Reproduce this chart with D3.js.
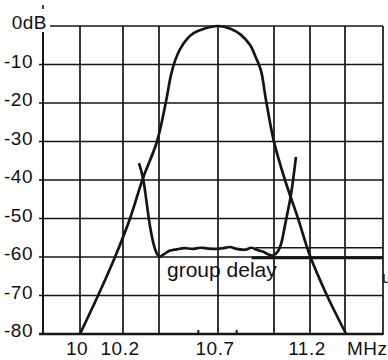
<!DOCTYPE html>
<html>
<head>
<meta charset="utf-8">
<script src="https://cdn.jsdelivr.net/npm/d3@7"></script>
<style>
  html, body { margin: 0; padding: 0; background: #fff; }
  svg { display: block; }
  text { font-family: "Liberation Sans", Arial, Helvetica, sans-serif; fill: #111; }
</style>
</head>
<body>
<script>
// ---- data ----
const gridFreqs = [10, 10.2, 10.4, 10.7, 11.0, 11.2, 11.4];
const xTickLabels = [10, 10.2, 10.7, 11.2];
const minorTicks = [10.6, 10.8];
const dbLevels = [0, -10, -20, -30, -40, -50, -60, -70, -80];
const yTickLabels = ["0dB", "-10", "-20", "-30", "-40", "-50", "-60", "-70", "-80"];

const amplitudeFreq = [10.0, 10.084, 10.163, 10.239, 10.311, 10.389, 10.436, 10.461, 10.483, 10.507, 10.542, 10.578, 10.629, 10.7, 10.77, 10.823, 10.871, 10.904, 10.93, 10.957, 11.0, 11.061, 11.133, 11.2, 11.291, 11.406];
const amplitudeDb   = [-80, -70, -60, -50, -39.5, -30, -19.5, -12.7, -8.8, -6.0, -3.4, -1.8, -0.7, 0, -0.8, -2.3, -4.9, -8.3, -11.5, -19.2, -30.1, -40, -49.9, -59.7, -69.4, -80];

const delayFreq = [10.289, 10.311, 10.35, 10.372, 10.389, 10.402, 10.427, 10.453, 10.49, 10.53, 10.57, 10.61, 10.65, 10.69, 10.73, 10.764, 10.8, 10.845, 10.88, 10.91, 10.94, 10.968, 10.996, 11.022, 11.04, 11.058, 11.075, 11.09, 11.106, 11.122];
const delayDb   = [-35.6, -39.5, -52, -57, -59.2, -59.9, -59.2, -58.4, -58.0, -57.7, -57.9, -57.6, -57.8, -57.9, -57.7, -57.4, -57.9, -58.1, -57.6, -58.2, -58.6, -59.3, -59.6, -58.5, -56.5, -52.5, -48.5, -45, -40, -34];

// group-delay reference markers at right
const refLines = [
  {f0: 10.9, f1: 11.6, db: -57.6, w: 1.4},
  {f0: 10.88, f1: 11.6, db: -60.2, w: 3}
];

// ---- layout ----
const W = 388, H = 360;
const svg = d3.select("body").append("svg").attr("width", W).attr("height", H);

const x = d3.scaleLinear()
  .domain([9.8, 10, 10.2, 10.4, 10.7, 11.0, 11.2, 11.4, 11.6])
  .range([43, 80, 123, 159, 218, 274, 310, 345, 383]);
const y = d3.scaleLinear().domain([0, -80]).range([26, 334]);

const ink = "#151515";
const g = svg.append("g");

// horizontal gridlines
g.selectAll(".hg").data(dbLevels).join("line")
  .attr("x1", d => d === 0 ? 50 : x(9.8) - 4)
  .attr("x2", x(11.6))
  .attr("y1", d => y(d)).attr("y2", d => y(d))
  .attr("stroke", ink).attr("stroke-width", d => d === -80 ? 2.4 : 1.7);

// vertical gridlines
g.selectAll(".vg").data(gridFreqs.concat([11.6])).join("line")
  .attr("x1", d => x(d)).attr("x2", d => x(d))
  .attr("y1", y(0)).attr("y2", y(-80) + 1)
  .attr("stroke", ink).attr("stroke-width", 1.7);

// left axis
g.append("line")
  .attr("x1", x(9.8)).attr("x2", x(9.8))
  .attr("y1", y(0) + 6).attr("y2", y(-80) + 1)
  .attr("stroke", ink).attr("stroke-width", 2);
g.append("line")
  .attr("x1", x(9.8)).attr("x2", x(9.8))
  .attr("y1", 5).attr("y2", 9)
  .attr("stroke", ink).attr("stroke-width", 1.6);

// minor ticks
g.selectAll(".mt").data(minorTicks).join("line")
  .attr("x1", d => x(d)).attr("x2", d => x(d))
  .attr("y1", y(-80) - 4).attr("y2", y(-80))
  .attr("stroke", ink).attr("stroke-width", 2);

// y labels
svg.selectAll(".yl").data(dbLevels).join("text")
  .attr("x", (d, i) => i === 0 ? 47 : 33)
  .attr("y", (d, i) => i === 0 ? 29 : y(d) + 3)
  .attr("text-anchor", "end")
  .attr("font-size", 19)
  .attr("letter-spacing", 0.5)
  .text((d, i) => yTickLabels[i]);

// x labels
svg.selectAll(".xl").data(xTickLabels).join("text")
  .attr("x", d => x(d) - 3)
  .attr("y", 355)
  .attr("text-anchor", "middle")
  .attr("font-size", 19)
  .attr("letter-spacing", 0.5)
  .text(d => d);
svg.append("text")
  .attr("x", 347).attr("y", 355)
  .attr("font-size", 19).attr("letter-spacing", 0.5)
  .text("MHz");

// reference lines
g.selectAll(".rl").data(refLines).join("line")
  .attr("x1", d => x(d.f0)).attr("x2", d => x(d.f1))
  .attr("y1", d => y(d.db)).attr("y2", d => y(d.db))
  .attr("stroke", ink).attr("stroke-width", d => d.w);

// curves
const line = d3.line()
  .x(d => x(d[0])).y(d => y(d[1]))
  .curve(d3.curveCatmullRom.alpha(0.5));

const amp = amplitudeFreq.map((f, i) => [f, amplitudeDb[i]]);
const del = delayFreq.map((f, i) => [f, delayDb[i]]);

g.append("path").attr("d", line(amp))
  .attr("fill", "none").attr("stroke", ink).attr("stroke-width", 2.7)
  .attr("stroke-linejoin", "round");
g.append("path").attr("d", line(del))
  .attr("fill", "none").attr("stroke", ink).attr("stroke-width", 2.7)
  .attr("stroke-linejoin", "round");

// labels
svg.append("text")
  .attr("x", 167).attr("y", 277)
  .attr("font-size", 21)
  .text("group delay");
svg.append("text")
  .attr("x", 382).attr("y", 283)
  .attr("font-size", 17)
  .text("u");
</script>
</body>
</html>
